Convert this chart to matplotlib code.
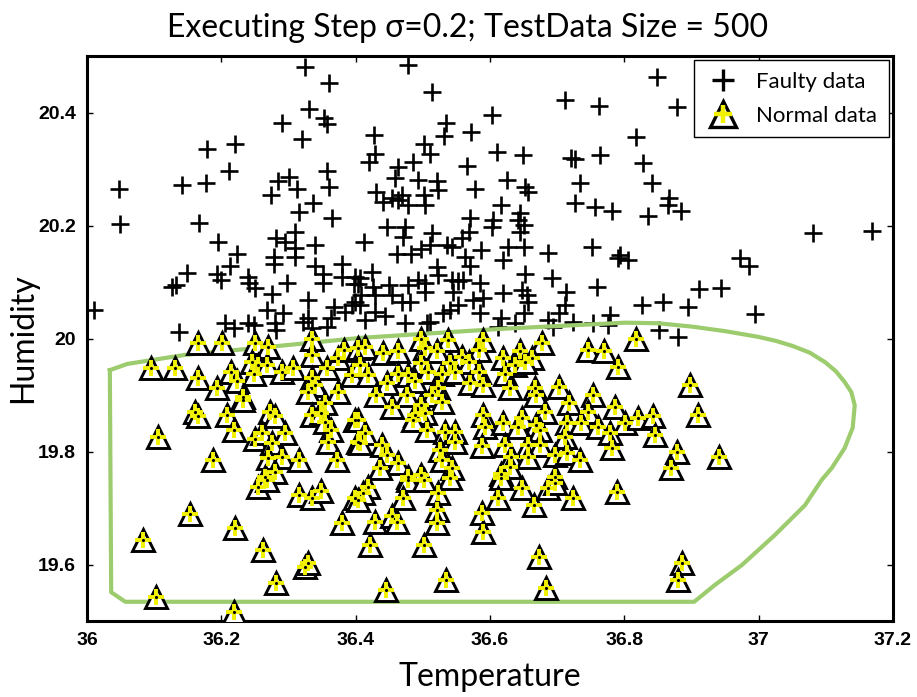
import matplotlib
matplotlib.use('Agg')
import matplotlib.pyplot as plt
from matplotlib.lines import Line2D
import numpy as np

# faulty readings (temperature, humidity)
faulty_t = [36.324, 36.361, 36.331, 36.353, 36.357, 36.290, 36.320, 36.178, 36.220, 36.212,
            36.357, 36.048, 36.142, 36.177, 36.285, 36.301, 36.313, 36.361, 36.274, 36.478,
            36.514, 36.711, 36.763, 36.603, 36.534, 36.571, 36.427, 36.531, 36.502, 36.511,
            36.610, 36.649, 36.721, 36.727, 36.764, 36.429, 36.420, 36.485, 36.463, 36.566,
            36.459, 36.493, 36.521, 36.626, 36.734, 36.431, 36.578, 36.523, 36.652, 36.657,
            36.469, 36.501, 36.454, 36.849, 36.878, 36.818, 36.828, 36.841, 36.866, 36.336,
            36.315, 36.365, 36.049, 36.167, 36.195, 36.282, 36.309, 36.295, 36.339, 36.310,
            36.224, 36.279, 36.279, 36.310, 36.339, 36.379, 36.213, 36.149, 36.193, 36.199,
            36.240, 36.352, 36.379, 36.399, 36.132, 36.127, 36.241, 36.250, 36.298, 36.352,
            36.398, 36.275, 36.329, 36.399, 36.394, 36.011, 36.268, 36.292, 36.367, 36.384,
            36.329, 36.364, 36.205, 36.219, 36.240, 36.248, 36.280, 36.282, 36.322, 36.335,
            36.358, 36.137, 36.441, 36.463, 36.478, 36.503, 36.617, 36.727, 36.756, 36.782,
            36.570, 36.605, 36.645, 36.642, 36.650, 36.603, 36.446, 36.473, 36.513, 36.568,
            36.645, 36.413, 36.471, 36.536, 36.543, 36.558, 36.511, 36.498, 36.587, 36.627,
            36.650, 36.461, 36.483, 36.563, 36.686, 36.752, 36.794, 36.791, 36.620, 36.570,
            36.521, 36.424, 36.522, 36.652, 36.692, 36.493, 36.478, 36.503, 36.543, 36.553,
            36.560, 36.585, 36.406, 36.404, 36.426, 36.449, 36.503, 36.545, 36.620, 36.647,
            36.655, 36.713, 36.759, 36.408, 36.429, 36.454, 36.590, 36.575, 36.469, 36.481,
            36.657, 36.712, 36.553, 36.406, 36.429, 36.540, 36.530, 36.585, 36.444, 36.473,
            36.650, 36.617, 36.702, 36.687, 36.779, 36.754, 36.776, 36.414, 36.506, 36.511,
            36.612, 36.637, 36.694, 36.724, 36.835, 36.865, 36.884, 37.081, 37.169, 36.806,
            36.972, 36.985, 36.911, 36.944, 36.826, 36.857, 36.895, 36.994, 36.851, 36.880]
faulty_h = [20.481, 20.453, 20.407, 20.390, 20.380, 20.382, 20.353, 20.335, 20.344, 20.296,
            20.296, 20.264, 20.272, 20.276, 20.279, 20.286, 20.264, 20.269, 20.254, 20.484,
            20.437, 20.422, 20.412, 20.396, 20.381, 20.366, 20.360, 20.358, 20.345, 20.327,
            20.330, 20.325, 20.319, 20.318, 20.325, 20.326, 20.313, 20.313, 20.304, 20.305,
            20.284, 20.281, 20.279, 20.281, 20.276, 20.260, 20.264, 20.263, 20.269, 20.260,
            20.254, 20.254, 20.249, 20.463, 20.410, 20.357, 20.310, 20.275, 20.249, 20.239,
            20.224, 20.214, 20.202, 20.204, 20.170, 20.178, 20.189, 20.171, 20.165, 20.160,
            20.149, 20.145, 20.132, 20.145, 20.129, 20.131, 20.128, 20.116, 20.115, 20.104,
            20.109, 20.114, 20.109, 20.109, 20.095, 20.092, 20.099, 20.089, 20.099, 20.099,
            20.096, 20.079, 20.069, 20.065, 20.059, 20.050, 20.050, 20.045, 20.056, 20.047,
            20.036, 20.036, 20.027, 20.019, 20.027, 20.024, 20.027, 20.015, 20.030, 20.018,
            20.021, 20.012, 20.242, 20.245, 20.236, 20.236, 20.236, 20.239, 20.233, 20.226,
            20.214, 20.210, 20.222, 20.210, 20.201, 20.198, 20.198, 20.198, 20.186, 20.189,
            20.189, 20.171, 20.180, 20.165, 20.162, 20.177, 20.165, 20.158, 20.157, 20.162,
            20.162, 20.149, 20.149, 20.145, 20.151, 20.162, 20.148, 20.142, 20.139, 20.128,
            20.127, 20.118, 20.112, 20.115, 20.107, 20.104, 20.095, 20.098, 20.104, 20.101,
            20.104, 20.098, 20.107, 20.096, 20.092, 20.095, 20.083, 20.083, 20.080, 20.086,
            20.077, 20.083, 20.092, 20.077, 20.077, 20.077, 20.071, 20.068, 20.065, 20.065,
            20.065, 20.059, 20.059, 20.059, 20.047, 20.050, 20.045, 20.045, 20.039, 20.027,
            20.045, 20.036, 20.045, 20.033, 20.042, 20.027, 20.024, 20.033, 20.027, 20.030,
            20.021, 20.027, 20.021, 20.030, 20.216, 20.236, 20.226, 20.186, 20.190, 20.139,
            20.142, 20.128, 20.087, 20.089, 20.059, 20.065, 20.055, 20.043, 20.015, 20.003]

# normal readings (temperature, humidity)
normal_t = [36.166, 36.201, 36.250, 36.270, 36.335, 36.096, 36.131, 36.166, 36.193, 36.215,
            36.223, 36.245, 36.255, 36.268, 36.248, 36.233, 36.233, 36.290, 36.307, 36.335,
            36.357, 36.374, 36.382, 36.394, 36.404, 36.335, 36.339, 36.329, 36.374, 36.354,
            36.161, 36.166, 36.209, 36.219, 36.272, 36.280, 36.335, 36.349, 36.354, 36.364,
            36.399, 36.105, 36.250, 36.260, 36.295, 36.275, 36.359, 36.404, 36.188, 36.270,
            36.290, 36.315, 36.372, 36.280, 36.265, 36.255, 36.268, 36.315, 36.335, 36.348,
            36.399, 36.153, 36.220, 36.379, 36.084, 36.262, 36.325, 36.329, 36.281, 36.102,
            36.219, 36.498, 36.538, 36.590, 36.677, 36.414, 36.441, 36.463, 36.503, 36.521,
            36.558, 36.583, 36.620, 36.645, 36.662, 36.746, 36.769, 36.406, 36.498, 36.540,
            36.568, 36.637, 36.652, 36.791, 36.419, 36.463, 36.478, 36.508, 36.528, 36.548,
            36.583, 36.622, 36.446, 36.488, 36.523, 36.570, 36.590, 36.630, 36.667, 36.669,
            36.702, 36.754, 36.431, 36.476, 36.513, 36.528, 36.454, 36.498, 36.717, 36.786,
            36.682, 36.746, 36.488, 36.503, 36.590, 36.404, 36.486, 36.593, 36.620, 36.647,
            36.669, 36.714, 36.736, 36.761, 36.801, 36.414, 36.506, 36.533, 36.548, 36.642,
            36.674, 36.712, 36.779, 36.406, 36.439, 36.548, 36.588, 36.622, 36.657, 36.674,
            36.781, 36.526, 36.446, 36.632, 36.657, 36.697, 36.714, 36.734, 36.528, 36.463,
            36.436, 36.630, 36.543, 36.498, 36.617, 36.478, 36.697, 36.818, 36.898, 36.910,
            36.820, 36.843, 36.845, 36.878, 36.941, 36.869, 36.478, 36.501, 36.540, 36.617,
            36.647, 36.687, 36.697, 36.724, 36.789, 36.419, 36.411, 36.404, 36.471, 36.523,
            36.612, 36.666, 36.521, 36.588, 36.429, 36.454, 36.461, 36.521, 36.590, 36.421,
            36.502, 36.673, 36.534, 36.445, 36.683, 36.886, 36.880]
normal_h = [19.992, 19.992, 19.992, 19.985, 20.000, 19.947, 19.947, 19.930, 19.912, 19.941,
            19.924, 19.959, 19.953, 19.953, 19.938, 19.897, 19.891, 19.941, 19.947, 19.971,
            19.947, 19.965, 19.980, 19.935, 19.983, 19.930, 19.918, 19.906, 19.906, 19.885,
            19.870, 19.862, 19.865, 19.838, 19.870, 19.862, 19.865, 19.868, 19.853, 19.838,
            19.856, 19.826, 19.823, 19.832, 19.832, 19.815, 19.817, 19.817, 19.785, 19.788,
            19.791, 19.785, 19.785, 19.764, 19.755, 19.738, 19.750, 19.723, 19.717, 19.730,
            19.717, 19.689, 19.664, 19.673, 19.643, 19.626, 19.596, 19.602, 19.567, 19.543,
            19.516, 20.000, 19.997, 19.997, 19.992, 19.985, 19.974, 19.977, 19.983, 19.977,
            19.968, 19.980, 19.965, 19.977, 19.965, 19.980, 19.977, 19.953, 19.956, 19.956,
            19.959, 19.953, 19.959, 19.950, 19.935, 19.938, 19.935, 19.941, 19.938, 19.941,
            19.941, 19.938, 19.921, 19.924, 19.912, 19.921, 19.918, 19.912, 19.912, 19.900,
            19.915, 19.900, 19.900, 19.900, 19.900, 19.888, 19.879, 19.882, 19.885, 19.879,
            19.870, 19.870, 19.865, 19.868, 19.865, 19.856, 19.856, 19.844, 19.850, 19.859,
            19.847, 19.850, 19.850, 19.844, 19.850, 19.832, 19.838, 19.835, 19.835, 19.844,
            19.838, 19.826, 19.832, 19.815, 19.812, 19.817, 19.809, 19.812, 19.812, 19.812,
            19.806, 19.803, 19.794, 19.791, 19.791, 19.794, 19.797, 19.785, 19.785, 19.779,
            19.770, 19.773, 19.770, 19.758, 19.761, 19.755, 19.755, 19.999, 19.918, 19.865,
            19.859, 19.862, 19.829, 19.800, 19.791, 19.770, 19.750, 19.750, 19.753, 19.753,
            19.735, 19.735, 19.744, 19.717, 19.729, 19.738, 19.726, 19.714, 19.717, 19.726,
            19.717, 19.705, 19.696, 19.691, 19.676, 19.685, 19.676, 19.673, 19.658, 19.635,
            19.635, 19.614, 19.573, 19.555, 19.559, 19.602, 19.573]

# classifier boundary, traced counter-clockwise from the top-left corner
boundary_t = [36.034, 36.036, 36.057, 36.904, 36.935, 36.975, 37.024, 37.069, 37.094, 37.109,
              37.128, 37.140, 37.143, 37.138, 37.128, 37.115, 37.099, 37.076, 37.050, 37.025,
              36.999, 36.950, 36.901, 36.850, 36.801, 36.615, 36.406, 36.295, 36.146, 36.060,
              36.034]
boundary_h = [19.944, 19.551, 19.534, 19.534, 19.564, 19.599, 19.652, 19.705, 19.750, 19.771,
              19.806, 19.842, 19.882, 19.905, 19.923, 19.942, 19.958, 19.975, 19.987, 19.996,
              20.003, 20.013, 20.021, 20.027, 20.028, 20.017, 20.001, 19.988, 19.971, 19.955,
              19.944]

x_ticks = [36, 36.2, 36.4, 36.6, 36.8, 37, 37.2]
y_ticks = [19.6, 19.8, 20, 20.2, 20.4]

TEXT_FONT = ['Lato', 'DejaVu Sans']
TICK_FONT = ['Liberation Sans', 'DejaVu Sans']
YELLOW = '#f2f200'
GREEN = '#9ccc6e'

fig = plt.figure(figsize=(9.17, 6.97), dpi=100)
ax = fig.add_axes([87 / 917, 1 - 621 / 697, 806 / 917, 565 / 697])

ax.plot(faulty_t, faulty_h, ls='none', marker='+', ms=12.5, mew=1.9, color='black', zorder=2)
ax.plot(boundary_t, boundary_h, color=GREEN, lw=3, zorder=3, solid_joinstyle='round')
ax.plot(normal_t, normal_h, ls='none', marker='^', ms=15.5, mfc='white', mec='black', mew=2.1, zorder=4)
ax.plot(normal_t, normal_h, ls='none', marker='+', ms=11, mew=2.8, color=YELLOW, zorder=5)
ax.plot(normal_t, normal_h, ls='none', marker='.', ms=2.5, color='black', zorder=6)

ax.set_xlim(36, 37.2)
ax.set_ylim(19.5, 20.5)
ax.set_xticks(x_ticks)
ax.set_yticks(y_ticks)
ax.set_xticklabels(['%g' % v for v in x_ticks])
ax.set_yticklabels(['%g' % v for v in y_ticks])
ax.tick_params(direction='in', length=4, width=1, top=True, right=True, pad=8)
for lab in ax.get_xticklabels() + ax.get_yticklabels():
    lab.set_family(TICK_FONT)
    lab.set_fontweight('bold')
    lab.set_fontsize(14)
for sp in ax.spines.values():
    sp.set_linewidth(2.2)

ax.set_xlabel('Temperature', family=TEXT_FONT, fontsize=23, labelpad=9)
ax.set_ylabel('Humidity', family=TEXT_FONT, fontsize=23, labelpad=0)
ax.set_title('Executing Step σ=0.2; TestData Size = 500', family=TEXT_FONT,
             fontsize=23, pad=14, x=0.472)

h_faulty = Line2D([], [], ls='none', marker='+', ms=16, mew=2.4, color='black')
h_tri = Line2D([], [], ls='none', marker='^', ms=19, mfc='white', mec='black', mew=2.4)
h_plus = Line2D([], [], ls='none', marker='+', ms=13, mew=3.2, color=YELLOW)
leg = ax.legend([h_faulty, (h_tri, h_plus)], ['Faulty data', 'Normal data'],
                loc='upper right', prop={'family': TEXT_FONT, 'size': 16},
                fancybox=False, edgecolor='black', framealpha=1,
                borderaxespad=0.2, borderpad=0.5, handletextpad=0.7,
                labelspacing=0.65, handlelength=1.6)
leg.get_frame().set_linewidth(1)

fig.savefig('out.png', dpi=100, facecolor='white')
